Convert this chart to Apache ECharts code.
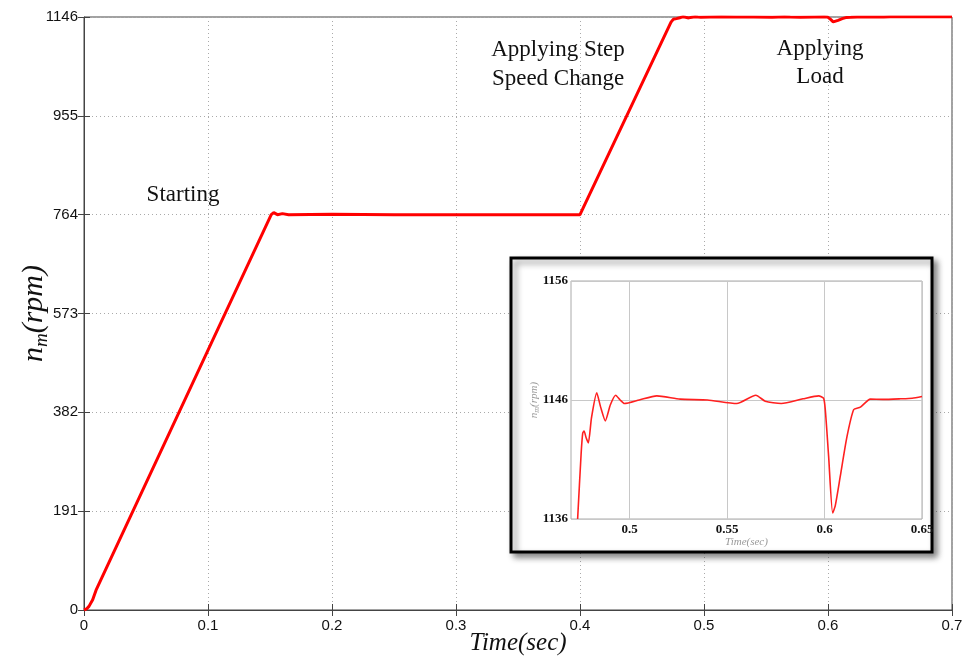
<!DOCTYPE html>
<html>
<head>
<meta charset="utf-8">
<script src="https://cdn.jsdelivr.net/npm/echarts@6/dist/echarts.min.js"></script>
<style>
html, body { margin: 0; padding: 0; background: #fff; }
#chart { width: 965px; height: 658px; }
</style>
</head>
<body>
<div id="chart"></div>
<script>
'use strict';
// 启动 + 阶跃调速段 (sec, rpm)
let rampTime = [0, 0.002, 0.004, 0.007, 0.01, 0.151, 0.153, 0.156, 0.16, 0.165, 0.2, 0.25, 0.3, 0.35, 0.4, 0.401];
let rampSpeed = [0, 2, 7, 20, 40, 764, 768, 764, 766, 764, 765, 764, 764, 764, 764, 767];
// 局部放大段 0.47 ~ 0.65 sec
let zoomTime = [0.4734, 0.4752, 0.476, 0.4767, 0.4778, 0.4789, 0.4805, 0.4832, 0.4852, 0.4876, 0.4902, 0.4929, 0.4952, 0.4974,
    0.505, 0.514, 0.526, 0.54, 0.555, 0.5648, 0.5696, 0.5778, 0.589, 0.597, 0.5995, 0.6004, 0.6021, 0.6042, 0.6055,
    0.6081, 0.6115, 0.615, 0.6184, 0.6235, 0.63, 0.639, 0.645, 0.65];
let zoomSpeed = [1136, 1141.5, 1143.2, 1143.4, 1142.8, 1142.4, 1144.5, 1146.6, 1145.4, 1144.25, 1145.6, 1146.4, 1146.0, 1145.7,
    1146.0, 1146.35, 1146.07, 1146.0, 1145.7, 1146.4, 1145.9, 1145.7, 1146.1, 1146.35, 1146.15, 1145.2, 1141.3, 1136.5, 1137.1,
    1139.6, 1142.9, 1145.2, 1145.4, 1146.07, 1146.05, 1146.1, 1146.15, 1146.3];
// 0.65 之后
let tailTime = [0.67, 0.7];
let tailSpeed = [1146.3, 1146.4];
// 刻度
let xTicksMain = [0, 0.1, 0.2, 0.3, 0.4, 0.5, 0.6, 0.7];
let yTicksMain = [0, 191, 382, 573, 764, 955, 1146];
let xTicksZoom = [0.5, 0.55, 0.6, 0.65];
let yTicksZoom = [1136, 1146, 1156];
let xRangeZoom = [0.47, 0.65];

let mainData = [];
for (let i = 0; i < rampTime.length; i++) {
    mainData.push([rampTime[i], rampSpeed[i]]);
}
for (let i = 0; i < zoomTime.length; i++) {
    mainData.push([zoomTime[i], zoomSpeed[i]]);
}
for (let i = 0; i < tailTime.length; i++) {
    mainData.push([tailTime[i], tailSpeed[i]]);
}
let zoomData = zoomTime.map((t, i) => [t, zoomSpeed[i]]);

let serif = '"Liberation Serif", "DejaVu Serif", serif';
let sans = '"Liberation Sans", Arial, sans-serif';
let plain = function(v) {
    return String(v);
};

let myChart = echarts.init(document.getElementById('chart'));
let option = {
    animation: false,
    backgroundColor: '#fff',
    grid: [
        {left: 84, top: 17, right: 13, bottom: 48, show: true, borderColor: '#444', borderWidth: 1, outerBoundsMode: 'none'},
        {left: 571, top: 281, width: 351, height: 238, show: true, borderColor: '#aaa', borderWidth: 1,
            backgroundColor: 'rgba(0,0,0,0)', z: 20, outerBoundsMode: 'none'},
    ],
    xAxis: [
        {
            gridIndex: 0, type: 'value', min: xTicksMain[0], max: xTicksMain[xTicksMain.length - 1],
            interval: xTicksMain[1] - xTicksMain[0],
            axisLine: {lineStyle: {color: '#444'}},
            axisTick: {inside: true, length: 6, lineStyle: {color: '#444'}},
            axisLabel: {color: '#111', fontFamily: sans, fontSize: 15, margin: 8, showMinLabel: true, showMaxLabel: true, formatter: plain},
            splitLine: {show: true, lineStyle: {color: '#aaa', type: [1, 3]}},
            name: 'Time(sec)', nameLocation: 'middle', nameGap: 21, nameMoveOverlap: false,
            nameTextStyle: {fontFamily: serif, fontStyle: 'italic', fontSize: 25, color: '#111'},
        },
        {
            gridIndex: 0, type: 'value', position: 'top', min: xTicksMain[0], max: xTicksMain[xTicksMain.length - 1],
            interval: xTicksMain[1] - xTicksMain[0],
            axisLine: {show: false}, axisLabel: {show: false}, splitLine: {show: false},
            axisTick: {inside: true, length: 6, lineStyle: {color: '#444'}},
        },
        {
            gridIndex: 1, type: 'value', min: xRangeZoom[0], max: xRangeZoom[1], z: 20,
            axisLine: {show: false},
            axisTick: {show: false, customValues: xTicksZoom},
            axisLabel: {customValues: xTicksZoom, color: '#111', fontFamily: serif, fontWeight: 'bold', fontSize: 13, margin: 4, formatter: plain},
            splitLine: {show: true, lineStyle: {color: '#c8c8c8', width: 1}},
            name: 'Time(sec)', nameLocation: 'middle', nameGap: 16,
            nameTextStyle: {fontFamily: serif, fontStyle: 'italic', fontSize: 11, color: '#999'},
        },
    ],
    yAxis: [
        {
            gridIndex: 0, type: 'value', min: yTicksMain[0], max: yTicksMain[yTicksMain.length - 1],
            interval: yTicksMain[1] - yTicksMain[0],
            axisLine: {show: true, lineStyle: {color: '#444'}},
            axisTick: {show: true, inside: true, length: 6, lineStyle: {color: '#444'}},
            axisLabel: {color: '#111', fontFamily: sans, fontSize: 15, margin: 6, showMinLabel: true, showMaxLabel: true, formatter: plain},
            splitLine: {show: true, lineStyle: {color: '#aaa', type: [1, 3]}},
            name: '{i|n}{s|m}{i|(rpm)}', nameLocation: 'middle', nameGap: 33, nameRotate: 90, nameMoveOverlap: false,
            nameTextStyle: {
                rich: {
                    i: {fontFamily: serif, fontStyle: 'italic', fontSize: 30, color: '#111'},
                    s: {fontFamily: serif, fontStyle: 'italic', fontSize: 19, color: '#111', padding: [14, 0, 0, 0]},
                },
            },
        },
        {
            gridIndex: 0, type: 'value', position: 'right', min: yTicksMain[0], max: yTicksMain[yTicksMain.length - 1],
            interval: yTicksMain[1] - yTicksMain[0],
            axisLine: {show: false}, axisLabel: {show: false}, splitLine: {show: false},
            axisTick: {show: true, inside: true, length: 6, lineStyle: {color: '#444'}},
        },
        {
            gridIndex: 1, type: 'value', min: yTicksZoom[0], max: yTicksZoom[yTicksZoom.length - 1],
            interval: yTicksZoom[1] - yTicksZoom[0], z: 20,
            axisLine: {show: false}, axisTick: {show: false},
            axisLabel: {color: '#111', fontFamily: serif, fontWeight: 'bold', fontSize: 13, margin: 3, showMinLabel: true, showMaxLabel: true, formatter: plain},
            splitLine: {show: true, lineStyle: {color: '#c8c8c8', width: 1}},
            name: '{i|n}{s|m}{i|(rpm)}', nameLocation: 'middle', nameGap: 30, nameRotate: 90, nameMoveOverlap: false,
            nameTextStyle: {
                rich: {
                    i: {fontFamily: serif, fontStyle: 'italic', fontSize: 11, color: '#999'},
                    s: {fontFamily: serif, fontStyle: 'italic', fontSize: 8, color: '#999', padding: [5, 0, 0, 0]},
                },
            },
        },
    ],
    graphic: [
        {
            type: 'rect', z: 10, shape: {x: 511, y: 258, width: 421, height: 294},
            style: {fill: '#fff', stroke: '#000', lineWidth: 3, shadowBlur: 6, shadowOffsetX: 4, shadowOffsetY: 4, shadowColor: 'rgba(0,0,0,0.45)'},
        },
        {type: 'text', z: 5, x: 183, y: 183, style: {text: 'Starting', font: '23px ' + serif, fill: '#111', textAlign: 'center'}},
        {type: 'text', z: 5, x: 558, y: 38, style: {text: 'Applying Step', font: '23px ' + serif, fill: '#111', textAlign: 'center'}},
        {type: 'text', z: 5, x: 558, y: 67, style: {text: 'Speed Change', font: '23px ' + serif, fill: '#111', textAlign: 'center'}},
        {type: 'text', z: 5, x: 820, y: 37, style: {text: 'Applying', font: '23px ' + serif, fill: '#111', textAlign: 'center'}},
        {type: 'text', z: 5, x: 820, y: 65, style: {text: 'Load', font: '23px ' + serif, fill: '#111', textAlign: 'center'}},
    ],
    series: [
        {
            type: 'line', xAxisIndex: 0, yAxisIndex: 0, data: mainData, showSymbol: false, z: 2,
            lineStyle: {color: '#ff0000', width: 3}, itemStyle: {color: '#ff0000'},
        },
        {
            type: 'line', xAxisIndex: 2, yAxisIndex: 2, data: zoomData, showSymbol: false, z: 21, smooth: 0.2,
            clip: true, lineStyle: {color: '#ff2020', width: 1.6}, itemStyle: {color: '#ff2020'},
        },
    ],
};
myChart.setOption(option);
</script>
</body>
</html>
